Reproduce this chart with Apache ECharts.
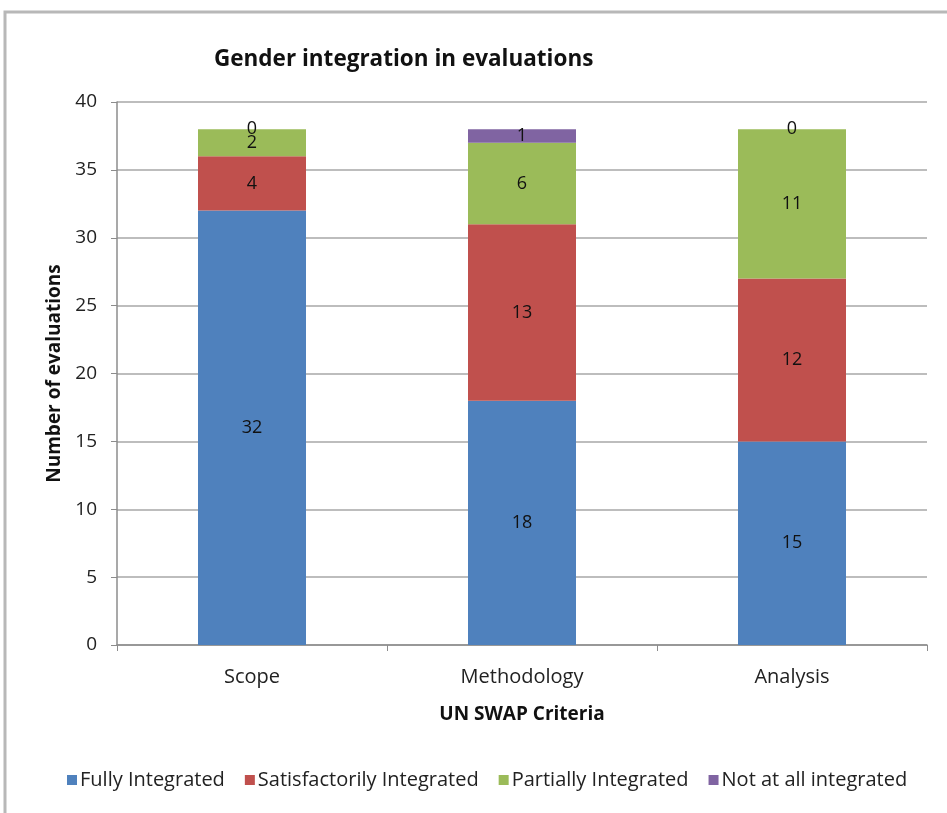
<!DOCTYPE html>
<html>
<head>
<meta charset="utf-8">
<script src="https://cdn.jsdelivr.net/npm/echarts@6/dist/echarts.min.js"></script>
<style>
  html, body { margin: 0; padding: 0; background: #fff; }
  #chart { width: 947px; height: 813px; }
</style>
</head>
<body>
<div id="chart"></div>
<script>
const categories = ['Scope', 'Methodology', 'Analysis'];
const fullyIntegrated = [32, 18, 15];
const satisfactorilyIntegrated = [4, 13, 12];
const partiallyIntegrated = [2, 6, 11];
const notAtAllIntegrated = [0, 1, 0];

const chart = echarts.init(document.getElementById('chart'));
const font = 'Open Sans';

function stackSeries(name, data, color) {
  return {
    name: name,
    type: 'bar',
    stack: 'total',
    data: data,
    barWidth: '40%',
    itemStyle: { color: color },
    label: {
      show: true,
      position: 'inside',
      color: '#111',
      fontFamily: font,
      fontSize: 18
    }
  };
}

chart.setOption({
  animation: false,
  textStyle: { fontFamily: font },
  graphic: [
    {
      type: 'rect',
      shape: { x: 5, y: 12, width: 1000, height: 860 },
      style: { fill: 'none', stroke: '#b8b8b8', lineWidth: 3 },
      silent: true
    }
  ],
  title: {
    text: 'Gender integration in evaluations',
    left: 209,
    top: 43,
    textStyle: { fontFamily: font, fontSize: 22.5, fontWeight: 'bold', color: '#111' }
  },
  legend: {
    bottom: 18,
    left: 62,
    itemWidth: 10,
    itemHeight: 10,
    itemGap: 20,
    icon: 'rect',
    textStyle: { fontFamily: font, fontSize: 20, color: '#222', padding: [0, 0, 0, -2] }
  },
  grid: {
    left: 117,
    right: 20,
    top: 102,
    bottom: 168
  },
  xAxis: {
    type: 'category',
    data: categories,
    name: 'UN SWAP Criteria',
    nameLocation: 'middle',
    nameGap: 60,
    nameTextStyle: { fontFamily: font, fontSize: 19, fontWeight: 'bold', color: '#111' },
    axisLine: { lineStyle: { color: '#8c8c8c', width: 1.5 } },
    axisTick: { show: true, alignWithLabel: false, length: 6, lineStyle: { color: '#8c8c8c' } },
    axisLabel: { fontFamily: font, fontSize: 20, color: '#222', margin: 22 }
  },
  yAxis: {
    type: 'value',
    min: 0,
    max: 40,
    interval: 5,
    name: 'Number of evaluations',
    nameLocation: 'middle',
    nameGap: 51,
    nameTextStyle: { fontFamily: font, fontSize: 19, fontWeight: 'bold', color: '#111' },
    axisLine: { show: true, lineStyle: { color: '#8c8c8c', width: 1.5 } },
    axisTick: { show: true, length: 6, inside: false, lineStyle: { color: '#8c8c8c' } },
    axisLabel: { fontFamily: font, fontSize: 19, color: '#222', margin: 20 },
    splitLine: { lineStyle: { color: '#bdbdbd', width: 2 } }
  },
  series: [
    stackSeries('Fully Integrated', fullyIntegrated, '#4F81BD'),
    stackSeries('Satisfactorily Integrated', satisfactorilyIntegrated, '#C0504D'),
    stackSeries('Partially Integrated', partiallyIntegrated, '#9BBB59'),
    stackSeries('Not at all integrated', notAtAllIntegrated, '#8064A2')
  ]
});
</script>
</body>
</html>
